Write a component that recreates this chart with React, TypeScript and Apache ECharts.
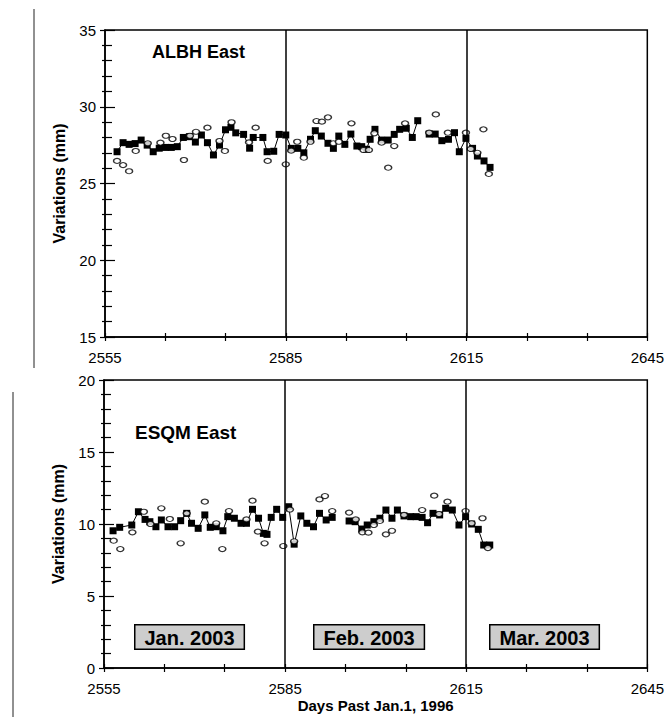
import React, { useEffect, useRef } from "react";
import * as echarts from "echarts";

const BASE_DAY = 2555;
const X_TICK_LABELS = [2555, 2585, 2615, 2645];
const MONTH_LINES = [2585, 2615];

// ALBH East
const albhSquareDays = [2557.0, 2558.0, 2559.0, 2560.0, 2561.0, 2562.0, 2563.0, 2564.0, 2565.0, 2566.0, 2567.0, 2568.0, 2569.0, 2570.0, 2571.0, 2572.0, 2573.0, 2574.0, 2575.0, 2575.9, 2576.7, 2578.0, 2579.0, 2579.6, 2581.2, 2581.9, 2583.0, 2583.9, 2585.0, 2585.9, 2587.0, 2588.0, 2589.1, 2589.9, 2590.9, 2592.0, 2592.9, 2593.8, 2594.8, 2595.8, 2596.8, 2597.6, 2598.4, 2599.0, 2599.8, 2600.9, 2602.0, 2603.0, 2603.9, 2605.0, 2606.0, 2606.9, 2607.9, 2608.8, 2609.8, 2610.9, 2612.0, 2613.0, 2613.8, 2614.9, 2616.0, 2616.8, 2617.9, 2618.9];
const albhSquareVals: (number | string)[] = [27.07, 27.66, 27.55, 27.6, 27.83, 27.5, 27.07, 27.3, 27.35, 27.35, 27.4, 28.0, 28.05, 27.7, 28.16, 27.66, 26.86, 27.5, 28.5, 28.66, 28.3, 28.2, 27.3, 28.0, 28.0, 27.07, 27.1, 28.2, 28.16, 27.29, 27.29, 27.0, 27.88, 28.44, 28.09, 27.62, 27.29, 28.09, 27.55, 28.22, 27.44, 27.4, 27.23, 27.88, 28.53, 27.83, 27.83, 28.2, 28.53, 28.6, 28.0, 29.09, "-", 28.22, 28.22, 27.79, 27.88, 28.31, 27.07, 27.94, 27.29, 26.79, 26.47, 26.05];
const albhCircleDays = [2557.0, 2558.0, 2559.0, 2560.1, 2562.1, 2564.2, 2565.1, 2566.2, 2568.1, 2569.1, 2570.1, 2572.0, 2574.0, 2574.9, 2576.0, 2578.9, 2580.0, 2582.0, 2585.0, 2585.9, 2586.9, 2588.0, 2589.1, 2590.1, 2591.0, 2592.0, 2592.9, 2593.8, 2595.9, 2597.9, 2598.8, 2599.7, 2600.9, 2602.0, 2603.0, 2604.8, 2608.8, 2609.9, 2611.9, 2614.9, 2615.7, 2616.8, 2617.8, 2618.7];
const albhCircleVals = [26.47, 26.2, 25.8, 27.12, 27.62, 27.66, 28.11, 27.9, 26.53, 28.11, 28.37, 28.64, 27.77, 27.12, 28.99, 27.68, 28.64, 26.47, 26.25, 27.14, 27.72, 26.68, 27.72, 29.07, 29.03, 29.31, 27.62, 27.72, 28.92, 27.18, 27.18, 28.27, 27.66, 26.03, 27.44, 28.92, 28.31, 29.5, 28.31, 28.31, 27.25, 27.0, 28.53, 25.62];

// ESQM East
const esqmSquareDays = [2556.5, 2557.6, 2559.6, 2560.7, 2561.8, 2562.6, 2563.6, 2564.5, 2565.6, 2566.7, 2567.7, 2568.7, 2569.5, 2570.6, 2571.7, 2572.6, 2573.6, 2574.7, 2575.5, 2576.6, 2577.7, 2578.6, 2579.6, 2580.6, 2581.4, 2582.0, 2582.7, 2583.6, 2584.6, 2585.6, 2586.5, 2587.6, 2588.6, 2589.7, 2590.7, 2591.8, 2592.8, 2594.2, 2595.6, 2596.6, 2597.7, 2598.6, 2599.7, 2600.7, 2601.7, 2602.7, 2603.6, 2604.7, 2605.8, 2606.7, 2607.7, 2608.6, 2609.5, 2610.6, 2611.6, 2612.7, 2613.8, 2614.9, 2615.9, 2617.0, 2617.9, 2618.9];
const esqmSquareVals: (number | string)[] = [9.53, 9.77, 9.93, 10.85, 10.32, 10.16, 9.81, 10.28, 9.81, 9.81, 10.23, 10.74, 10.05, 9.7, 10.63, 9.77, 9.81, 9.53, 10.51, 10.4, 10.05, 10.05, 11.02, 10.4, 9.35, 9.28, 10.46, 11.02, 10.46, 11.2, 8.6, 10.56, 10.05, 9.81, 10.74, 10.28, 10.46, "-", 10.21, 10.16, 9.65, 9.93, 10.16, 10.4, 10.97, 10.4, 10.97, 10.56, 10.51, 10.51, 10.46, 10.09, 10.74, 10.63, 11.09, 10.97, 9.93, 10.51, 10.0, 9.63, 8.54, 8.54];
const esqmCircleDays = [2556.6, 2557.7, 2559.7, 2561.6, 2562.7, 2564.5, 2565.9, 2567.7, 2568.7, 2571.7, 2573.6, 2574.6, 2575.7, 2578.6, 2579.6, 2580.5, 2581.6, 2584.7, 2585.8, 2586.5, 2590.7, 2591.6, 2592.8, 2595.6, 2596.7, 2597.8, 2598.8, 2599.7, 2600.7, 2601.7, 2602.7, 2604.7, 2607.7, 2609.7, 2610.5, 2611.9, 2614.9, 2615.9, 2617.7, 2618.6];
const esqmCircleVals = [8.84, 8.26, 9.42, 10.85, 10.0, 11.09, 10.35, 8.66, 10.74, 11.55, 10.05, 8.26, 10.9, 10.32, 11.62, 9.47, 8.66, 8.47, 11.0, 8.8, 11.71, 11.94, 10.9, 10.79, 10.32, 9.42, 9.4, 9.93, 10.21, 9.28, 9.53, 10.63, 10.97, 11.97, 10.69, 11.55, 10.9, 10.05, 10.4, 8.33];

const FONT = '"Liberation Sans", Arial, sans-serif';

function pairs(days: number[], vals: (number | string)[]) {
  return days.map((d, i) => [d - BASE_DAY, vals[i]]);
}

function xAxes(gridIndex: number, withName: boolean) {
  const common = {
    gridIndex,
    type: "value",
    min: 0,
    max: 90,
    interval: 10,
    position: "bottom",
    splitLine: { show: false },
  };
  return [
    {
      ...common,
      axisLine: { show: true, onZero: false, lineStyle: { color: "#000", width: 1.5 } },
      axisTick: { show: true, inside: false, length: 4, lineStyle: { color: "#000", width: 1.2 } },
      axisLabel: {
        show: true,
        margin: 13,
        color: "#000",
        fontSize: 15,
        fontFamily: FONT,
        formatter: (v: number) => (X_TICK_LABELS.includes(v + BASE_DAY) ? String(v + BASE_DAY) : ""),
      },
      ...(withName
        ? {
            name: "Days Past Jan.1, 1996",
            nameLocation: "middle",
            nameGap: 30,
            nameTextStyle: { color: "#000", fontSize: 15, fontWeight: "bold", fontFamily: FONT },
          }
        : {}),
    },
    {
      ...common,
      axisLine: { show: false, onZero: false },
      axisTick: { show: true, inside: true, length: 4, lineStyle: { color: "#000", width: 1.2 } },
      axisLabel: { show: false },
    },
  ];
}

function yAxes(gridIndex: number, min: number, max: number) {
  const common = {
    gridIndex,
    type: "value",
    min,
    max,
    interval: 5,
    position: "left",
    splitLine: { show: false },
  };
  return [
    {
      ...common,
      axisLine: { show: true, onZero: false, lineStyle: { color: "#000", width: 1.5 } },
      axisTick: { show: true, inside: false, length: 5, lineStyle: { color: "#000", width: 1.2 } },
      minorTick: { show: true, splitNumber: 5, length: 3, lineStyle: { color: "#000", width: 1.2 } },
      axisLabel: { show: true, margin: 9, color: "#000", fontSize: 15, fontFamily: FONT },
      name: "Variations (mm)",
      nameLocation: "middle",
      nameGap: 38,
      nameTextStyle: { color: "#000", fontSize: 16, fontWeight: "bold", fontFamily: FONT },
    },
    {
      ...common,
      axisLine: { show: false, onZero: false },
      axisTick: { show: true, inside: true, length: 10, lineStyle: { color: "#000", width: 1.2 } },
      minorTick: { show: true, splitNumber: 5, length: 7, lineStyle: { color: "#000", width: 1.2 } },
      axisLabel: { show: false },
    },
  ];
}

function seriesFor(gridNo: number, sqDays: number[], sqVals: (number | string)[], ciDays: number[], ciVals: number[]) {
  const xi = gridNo * 2;
  const yi = gridNo * 2;
  return [
    {
      type: "line",
      xAxisIndex: xi,
      yAxisIndex: yi,
      data: pairs(sqDays, sqVals),
      symbol: "rect",
      symbolSize: 7,
      showSymbol: true,
      connectNulls: false,
      itemStyle: { color: "#000" },
      lineStyle: { color: "#000", width: 1 },
      markLine: {
        silent: true,
        symbol: "none",
        label: { show: false },
        lineStyle: { color: "#000", width: 1.5, type: "solid" },
        data: MONTH_LINES.map((d) => ({ xAxis: d - BASE_DAY })),
      },
      z: 3,
    },
    {
      type: "scatter",
      xAxisIndex: xi,
      yAxisIndex: yi,
      data: pairs(ciDays, ciVals),
      symbol: "circle",
      symbolSize: [7, 5],
      itemStyle: { color: "#fff", borderColor: "#000", borderWidth: 1.3 },
      z: 4,
    },
  ];
}

function monthBox(text: string, left: number) {
  return {
    type: "text",
    left,
    top: 624,
    style: {
      text,
      fill: "#000",
      font: `bold 20px ${FONT}`,
      backgroundColor: "#cdcdcd",
      borderColor: "#000",
      borderWidth: 1.5,
      padding: [2, 9, 1, 9],
    },
  };
}

export default function App() {
  const ref = useRef<HTMLDivElement>(null);
  useEffect(() => {
    if (!ref.current) return;
    const chart = echarts.init(ref.current, undefined, { renderer: "svg" });
    chart.setOption({
      animation: false,
      backgroundColor: "#fff",
      grid: [
        { left: 105, top: 30, width: 546, height: 307, show: true, borderColor: "#000", borderWidth: 1.5, backgroundColor: "transparent" },
        { left: 104, top: 380, width: 545, height: 288, show: true, borderColor: "#000", borderWidth: 1.5, backgroundColor: "transparent" },
      ],
      xAxis: [...xAxes(0, false), ...xAxes(1, true)],
      yAxis: [...yAxes(0, 15, 35), ...yAxes(1, 0, 20)],
      series: [
        ...seriesFor(0, albhSquareDays, albhSquareVals, albhCircleDays, albhCircleVals),
        ...seriesFor(1, esqmSquareDays, esqmSquareVals, esqmCircleDays, esqmCircleVals),
      ],
      graphic: [
        { type: "line", shape: { x1: 34, y1: 9, x2: 34, y2: 368 }, style: { stroke: "#222", lineWidth: 1 } },
        { type: "line", shape: { x1: 13, y1: 392, x2: 13, y2: 717 }, style: { stroke: "#222", lineWidth: 1 } },
        { type: "text", left: 152, top: 43, style: { text: "ALBH East", fill: "#000", font: `bold 18px ${FONT}` } },
        { type: "text", left: 135, top: 423, style: { text: "ESQM East", fill: "#000", font: `bold 19px ${FONT}` } },
        monthBox("Jan. 2003", 134),
        monthBox("Feb. 2003", 313),
        monthBox("Mar. 2003", 489),
      ],
    });
    return () => chart.dispose();
  }, []);
  return <div ref={ref} style={{ position: "absolute", left: 0, top: 0, width: 667, height: 720 }} />;
}
